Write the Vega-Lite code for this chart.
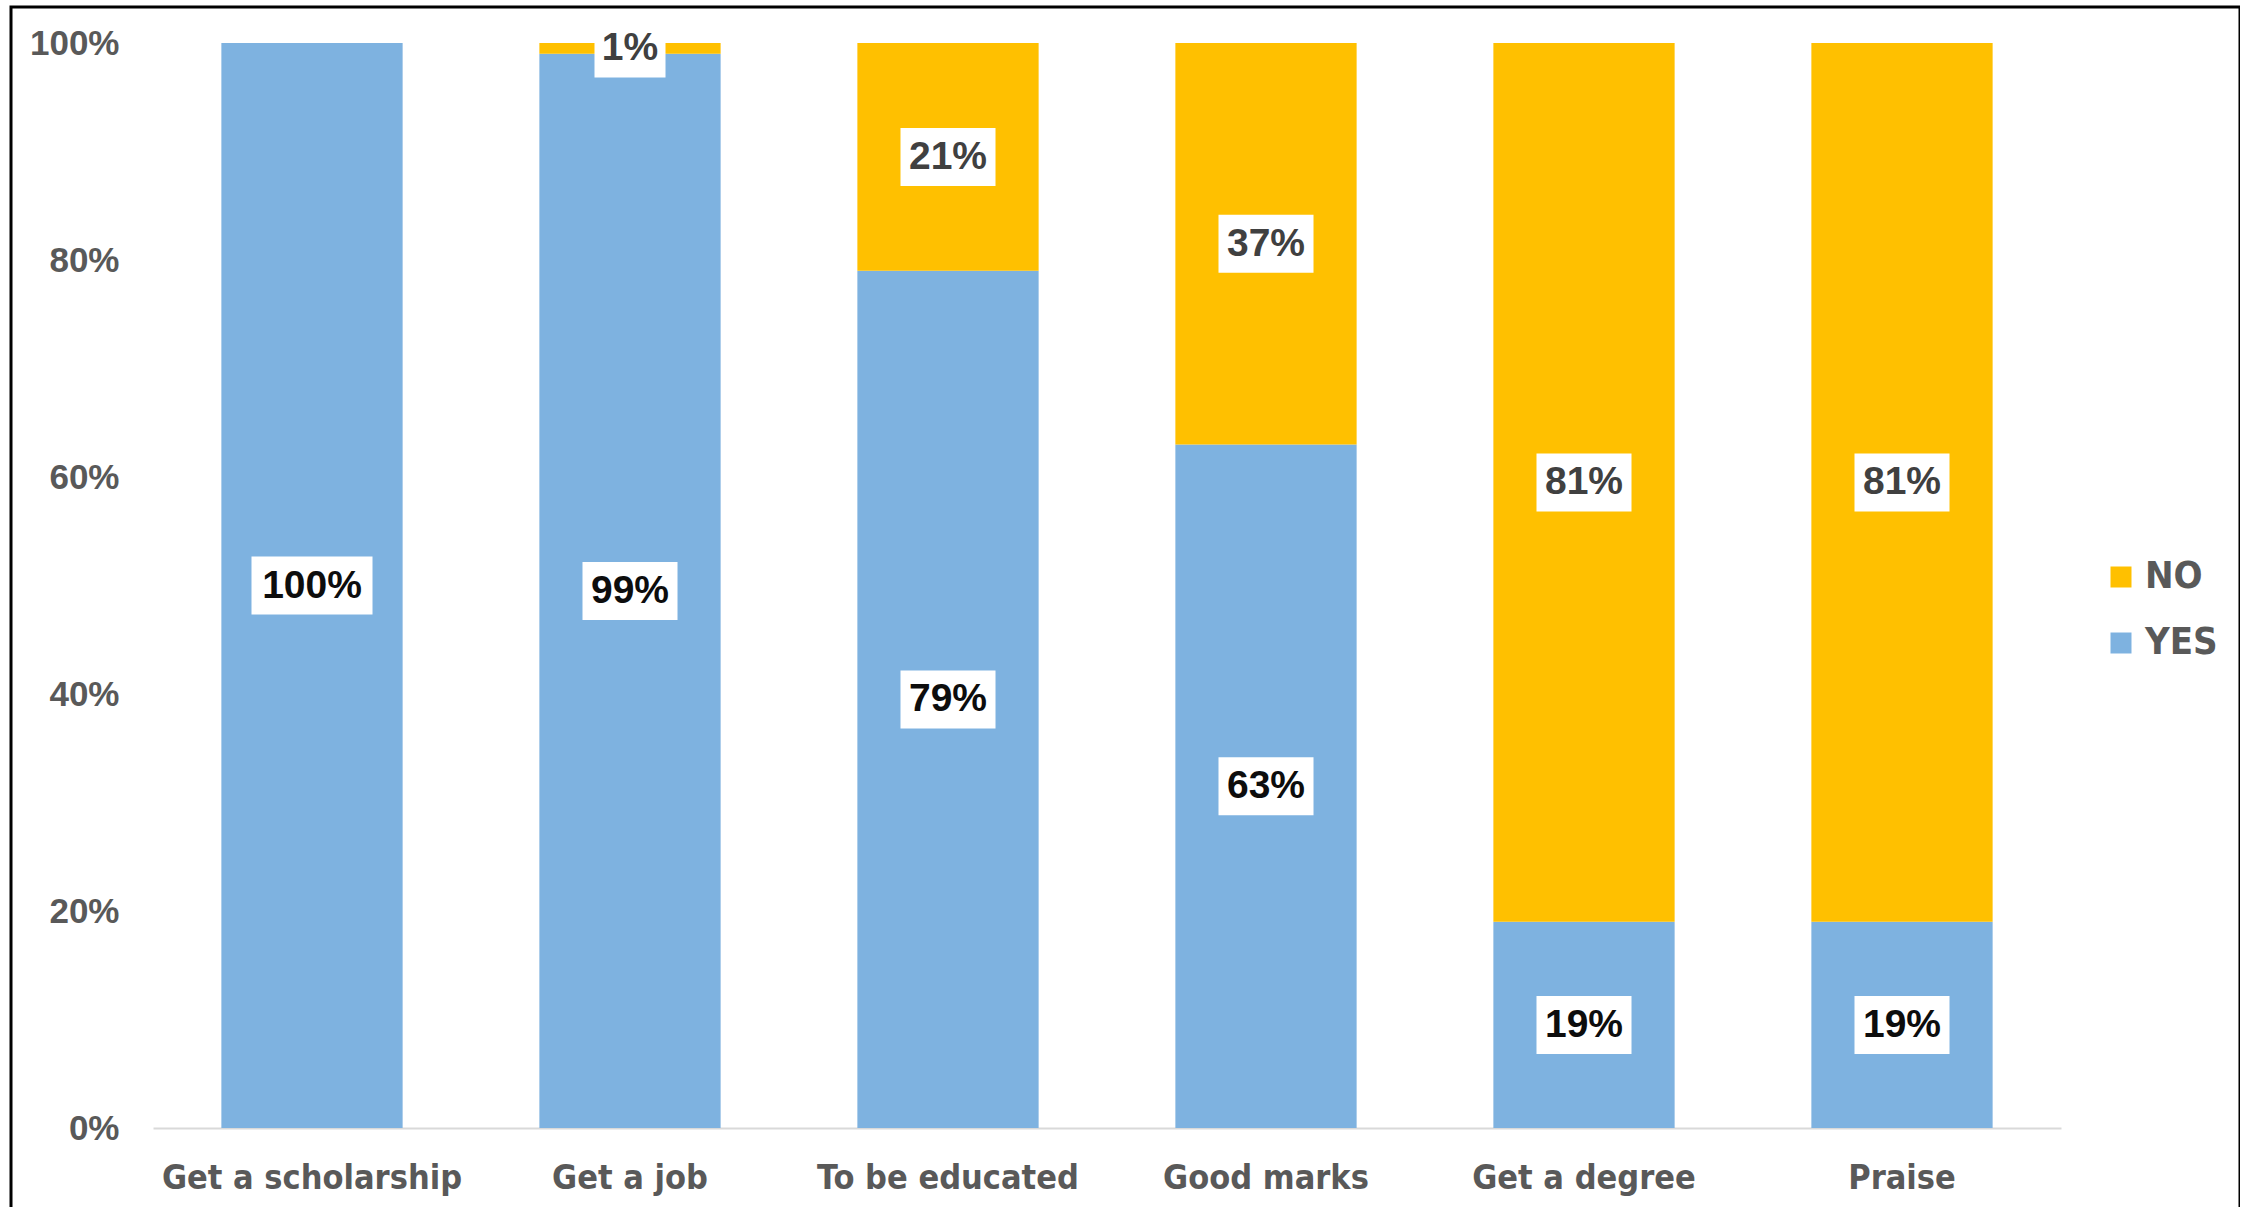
{
  "$schema": "https://vega.github.io/schema/vega-lite/v6.json",
  "autosize": {"type": "none"},
  "padding": {"left": 11, "top": 7, "right": 0, "bottom": -4},
  "width": 2229,
  "height": 1204,
  "background": "white",
  "config": {"view": {"stroke": "#000000", "strokeWidth": 3}},
  "data": {
    "values": [
      {"category": "Get a scholarship", "answer": "YES", "value": 100},
      {"category": "Get a scholarship", "answer": "NO", "value": 0},
      {"category": "Get a job", "answer": "YES", "value": 99},
      {"category": "Get a job", "answer": "NO", "value": 1},
      {"category": "To be educated", "answer": "YES", "value": 79},
      {"category": "To be educated", "answer": "NO", "value": 21},
      {"category": "Good marks", "answer": "YES", "value": 63},
      {"category": "Good marks", "answer": "NO", "value": 37},
      {"category": "Get a degree", "answer": "YES", "value": 19},
      {"category": "Get a degree", "answer": "NO", "value": 81},
      {"category": "Praise", "answer": "YES", "value": 19},
      {"category": "Praise", "answer": "NO", "value": 81}
    ]
  },
  "transform": [
    {"stack": "value", "groupby": ["category"], "sort": [{"field": "answer", "order": "descending"}], "as": ["v0", "v1"]},
    {"calculate": "(datum.v0 + datum.v1) / 2", "as": "mid"},
    {"calculate": "datum.value + '%'", "as": "label"}
  ],
  "encoding": {
    "x": {
      "field": "category",
      "type": "nominal",
      "sort": null,
      "scale": {"range": [142, 2050], "paddingInner": 0.43, "paddingOuter": 0.215},
      "axis": {
        "title": null,
        "labelAngle": 0,
        "domainColor": "#D9D9D9",
        "domainWidth": 2,
        "ticks": false,
        "tickSize": 0,
        "labelPadding": 33,
        "offset": -83,
        "labelFont": "DejaVu Sans Condensed, DejaVu Sans",
        "labelFontWeight": "bold",
        "labelFontSize": 34,
        "labelColor": "#595959",
        "labelLimit": 0
      }
    },
    "y": {
      "field": "mid",
      "type": "quantitative",
      "scale": {"domain": [0, 100], "range": [1121, 36], "nice": false},
      "axis": {
        "title": null,
        "values": [0, 20, 40, 60, 80, 100],
        "labelExpr": "datum.value + '%'",
        "domain": false,
        "ticks": false,
        "tickSize": 0,
        "grid": false,
        "offset": -112,
        "labelPadding": 4,
        "labelFont": "Liberation Sans",
        "labelFontWeight": "bold",
        "labelFontSize": 35,
        "labelColor": "#595959"
      }
    }
  },
  "layer": [
    {
      "mark": {"type": "bar"},
      "encoding": {
        "y": {
          "field": "v0",
          "type": "quantitative",
          "scale": {"domain": [0, 100], "range": [1121, 36], "nice": false},
          "axis": {
            "title": null,
            "values": [0, 20, 40, 60, 80, 100],
            "labelExpr": "datum.value + '%'",
            "domain": false,
            "ticks": false,
            "tickSize": 0,
            "grid": false,
            "offset": -112,
            "labelPadding": 4,
            "labelFont": "Liberation Sans",
            "labelFontWeight": "bold",
            "labelFontSize": 35,
            "labelColor": "#595959"
          }
        },
        "y2": {"field": "v1"},
        "color": {
          "field": "answer",
          "type": "nominal",
          "scale": {"domain": ["NO", "YES"], "range": ["#FFC000", "#7EB2E0"]},
          "legend": {
            "orient": "none",
            "legendX": 2091,
            "legendY": 551,
            "title": null,
            "symbolType": "square",
            "symbolSize": 441,
            "symbolStrokeWidth": 0,
            "labelFont": "DejaVu Sans Condensed, DejaVu Sans",
            "labelFontWeight": "bold",
            "labelFontSize": 38,
            "labelColor": "#595959",
            "rowPadding": 28,
            "labelOffset": 5,
            "padding": 0
          }
        }
      }
    },
    {
      "transform": [{"filter": "datum.value > 0"}],
      "mark": {"type": "point", "filled": true, "fill": "white", "opacity": 1, "size": 4, "strokeWidth": 0},
      "encoding": {
        "shape": {
          "field": "label",
          "type": "nominal",
          "scale": {
            "domain": ["100%", "99%", "1%", "79%", "21%", "63%", "37%", "19%", "81%"],
            "range": [
              "M-60.5,-29H60.5V29H-60.5Z",
              "M-47.5,-29H47.5V29H-47.5Z",
              "M-35.5,-29H35.5V29H-35.5Z",
              "M-47.5,-29H47.5V29H-47.5Z",
              "M-47.5,-29H47.5V29H-47.5Z",
              "M-47.5,-29H47.5V29H-47.5Z",
              "M-47.5,-29H47.5V29H-47.5Z",
              "M-47.5,-29H47.5V29H-47.5Z",
              "M-47.5,-29H47.5V29H-47.5Z"
            ]
          },
          "legend": null
        }
      }
    },
    {
      "transform": [{"filter": "datum.value > 0"}],
      "mark": {"type": "text", "font": "Liberation Sans", "fontWeight": "bold", "fontSize": 39, "baseline": "middle", "align": "center"},
      "encoding": {
        "text": {"field": "label"},
        "color": {"condition": {"test": "datum.answer == 'NO'", "value": "#404040"}, "value": "#0D0D0D"}
      }
    }
  ]
}
